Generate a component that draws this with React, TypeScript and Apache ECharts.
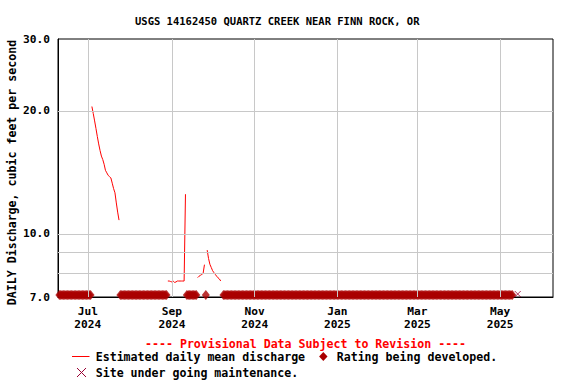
import React, { useEffect, useRef } from "react";
import * as echarts from "echarts";

// ---- data ----
const axisStart = "2024-06-09";
const axisEnd = "2025-06-09";

const xTickDates = ["2024-07-01", "2024-09-01", "2024-11-01", "2025-01-01", "2025-03-01", "2025-05-01"];
const xTickLabels = ["Jul\n2024", "Sep\n2024", "Nov\n2024", "Jan\n2025", "Mar\n2025", "May\n2025"];

const yTickValues = [7, 10, 20, 30];
const yGridValues = [8, 9, 10, 20];

// Estimated daily mean discharge: segment start dates and consecutive daily values
const estStarts = ["2024-07-04", "2024-08-29", "2024-09-20", "2024-09-27"];
const estSeg1 = [20.5, 19.7, 18.9, 18.1, 17.3, 16.6, 16.0, 15.5, 15.2, 14.8, 14.3, 14.1, 13.9, 13.8, 13.7, 13.3, 12.9, 12.6, 11.9, 11.3, 10.8];
const estSeg2 = [7.66, 7.66, 7.64, 7.62, 7.65, 7.6, 7.62, 7.66, 7.66, 7.66, 7.66, 7.66, 7.66, 12.5];
const estSeg3 = [7.81, 7.87, 7.91, 7.95, 8.0, 8.4];
const estSeg4 = [9.12, 8.7, 8.42, 8.27, 8.12, 8.03, 7.95, 7.87, 7.8, 7.75, 7.66];
const estSegments = [estSeg1, estSeg2, estSeg3, estSeg4];

// Rating being developed: date ranges (plotted at the bottom of the axis)
const ratingRanges = [
  ["2024-06-10", "2024-07-03"],
  ["2024-07-25", "2024-08-28"],
  ["2024-09-12", "2024-09-19"],
  ["2024-09-26", "2024-09-26"],
  ["2024-10-09", "2025-05-10"],
];
const ratingLevel = 7;

// Site under going maintenance
const maintenanceDates = ["2025-05-14"];

const FONT = '"DejaVu Sans Mono", "Liberation Mono", monospace';

function day(s: string): number {
  return new Date(s + "T00:00:00").getTime();
}
function addDays(s: string, n: number): number {
  const d = new Date(s + "T00:00:00");
  d.setDate(d.getDate() + n);
  return d.getTime();
}

export default function App() {
  const ref = useRef<HTMLDivElement>(null);

  useEffect(() => {
    document.body.style.margin = "0";
    if (!ref.current) return;
    const chart = echarts.init(ref.current, undefined, { renderer: "svg" });

    const lineData: any[] = [];
    estSegments.forEach((vals, si) => {
      vals.forEach((v, i) => lineData.push([addDays(estStarts[si], i), v]));
      lineData.push([addDays(estStarts[si], vals.length), null]);
    });

    const ratingData: any[] = [];
    ratingRanges.forEach(([a, b]) => {
      const end = day(b);
      for (let i = 0; ; i++) {
        const t = addDays(a, i);
        if (t > end) break;
        ratingData.push([t, ratingLevel]);
      }
    });

    const maintData = maintenanceDates.map((d) => [day(d), ratingLevel]);

    const tickTs = xTickDates.map(day);

    const option: any = {
      animation: false,
      backgroundColor: "#ffffff",
      grid: {
        left: 58,
        right: 23,
        top: 39,
        bottom: 87,
        show: true,
        borderColor: "#000",
        borderWidth: 1,
        backgroundColor: "transparent",
      },
      xAxis: {
        type: "value",
        min: day(axisStart),
        max: day(axisEnd),
        axisLine: { show: true, onZero: false, lineStyle: { color: "#000", width: 1 } },
        axisTick: { show: false },
        splitLine: { show: false },
        axisLabel: {
          customValues: tickTs,
          formatter: (v: number) => {
            let best = 0;
            tickTs.forEach((t, i) => {
              if (Math.abs(t - v) < Math.abs(tickTs[best] - v)) best = i;
            });
            return xTickLabels[best];
          },
          color: "#000",
          fontFamily: FONT,
          fontWeight: "bold",
          fontSize: 11.2,
          lineHeight: 13,
          margin: 8,
          hideOverlap: false,
        },
      },
      yAxis: {
        type: "log",
        logBase: 10,
        min: 7,
        max: 30,
        axisLine: { show: true, onZero: false, lineStyle: { color: "#000", width: 1 } },
        axisTick: { show: false },
        splitLine: { show: false },
        minorSplitLine: { show: false },
        axisLabel: {
          customValues: yTickValues,
          formatter: (v: number) => Number(v).toFixed(1),
          color: "#000",
          fontFamily: FONT,
          fontWeight: "bold",
          fontSize: 11.2,
          margin: 8,
        },
      },
      series: [
        {
          type: "line",
          data: [],
          z: 1,
          silent: true,
          markLine: {
            silent: true,
            symbol: ["none", "none"],
            label: { show: false },
            emphasis: { disabled: true },
            lineStyle: { color: "#c8c8c8", width: 1, type: "solid" },
            data: [
              ...yGridValues.map((v) => ({ yAxis: v })),
              ...tickTs.map((t) => ({ xAxis: t })),
            ],
          },
        },
        {
          name: "Estimated daily mean discharge",
          type: "line",
          data: lineData,
          connectNulls: false,
          showSymbol: false,
          symbol: "none",
          lineStyle: { color: "#ff0000", width: 1 },
          z: 3,
          silent: true,
        },
        {
          name: "Rating being developed.",
          type: "scatter",
          data: ratingData,
          symbol: "diamond",
          symbolSize: [8, 10],
          symbolOffset: [0, -2],
          itemStyle: { color: "#aa0000" },
          clip: false,
          z: 4,
          silent: true,
        },
        {
          name: "Site under going maintenance.",
          type: "scatter",
          data: maintData,
          symbol: "path://M0,0L10,10M10,0L0,10",
          symbolSize: 6,
          symbolOffset: [0, -3],
          itemStyle: { color: "none", borderColor: "#990033", borderWidth: 1 },
          clip: false,
          z: 5,
          silent: true,
        },
      ],
      graphic: [
        {
          type: "text",
          x: 135,
          y: 21,
          style: {
            text: "USGS 14162450 QUARTZ CREEK NEAR FINN ROCK, OR",
            fill: "#000",
            font: `bold 10.5px ${FONT}`,
            textAlign: "left",
            textVerticalAlign: "middle",
          },
        },
        {
          type: "text",
          x: 12,
          y: 172.5,
          rotation: Math.PI / 2,
          style: {
            text: "DAILY Discharge, cubic feet per second",
            fill: "#000",
            font: `bold 11.6px ${FONT}`,
            textAlign: "center",
            textVerticalAlign: "middle",
          },
        },
        {
          type: "text",
          x: 145,
          y: 343.5,
          style: {
            text: "---- Provisional Data Subject to Revision ----",
            fill: "#ff0000",
            font: `bold 11.6px ${FONT}`,
            textAlign: "left",
            textVerticalAlign: "middle",
          },
        },
        {
          type: "line",
          shape: { x1: 72, y1: 356.5, x2: 89.5, y2: 356.5 },
          style: { stroke: "#ff0000", lineWidth: 1 },
        },
        {
          type: "text",
          x: 95.7,
          y: 357,
          style: {
            text: "Estimated daily mean discharge",
            fill: "#000",
            font: `bold 11.6px ${FONT}`,
            textAlign: "left",
            textVerticalAlign: "middle",
          },
        },
        {
          type: "polygon",
          shape: { points: [[323.3, 352], [327.5, 356.5], [323.3, 361], [319.1, 356.5]] },
          style: { fill: "#aa0000" },
        },
        {
          type: "text",
          x: 336.7,
          y: 357,
          style: {
            text: "Rating being developed.",
            fill: "#000",
            font: `bold 11.6px ${FONT}`,
            textAlign: "left",
            textVerticalAlign: "middle",
          },
        },
        {
          type: "line",
          shape: { x1: 77, y1: 368, x2: 86, y2: 377 },
          style: { stroke: "#990033", lineWidth: 1 },
        },
        {
          type: "line",
          shape: { x1: 86, y1: 368, x2: 77, y2: 377 },
          style: { stroke: "#990033", lineWidth: 1 },
        },
        {
          type: "text",
          x: 95.7,
          y: 373,
          style: {
            text: "Site under going maintenance.",
            fill: "#000",
            font: `bold 11.6px ${FONT}`,
            textAlign: "left",
            textVerticalAlign: "middle",
          },
        },
      ],
    };

    chart.setOption(option);
    return () => chart.dispose();
  }, []);

  return <div ref={ref} style={{ width: 576, height: 384 }} />;
}
